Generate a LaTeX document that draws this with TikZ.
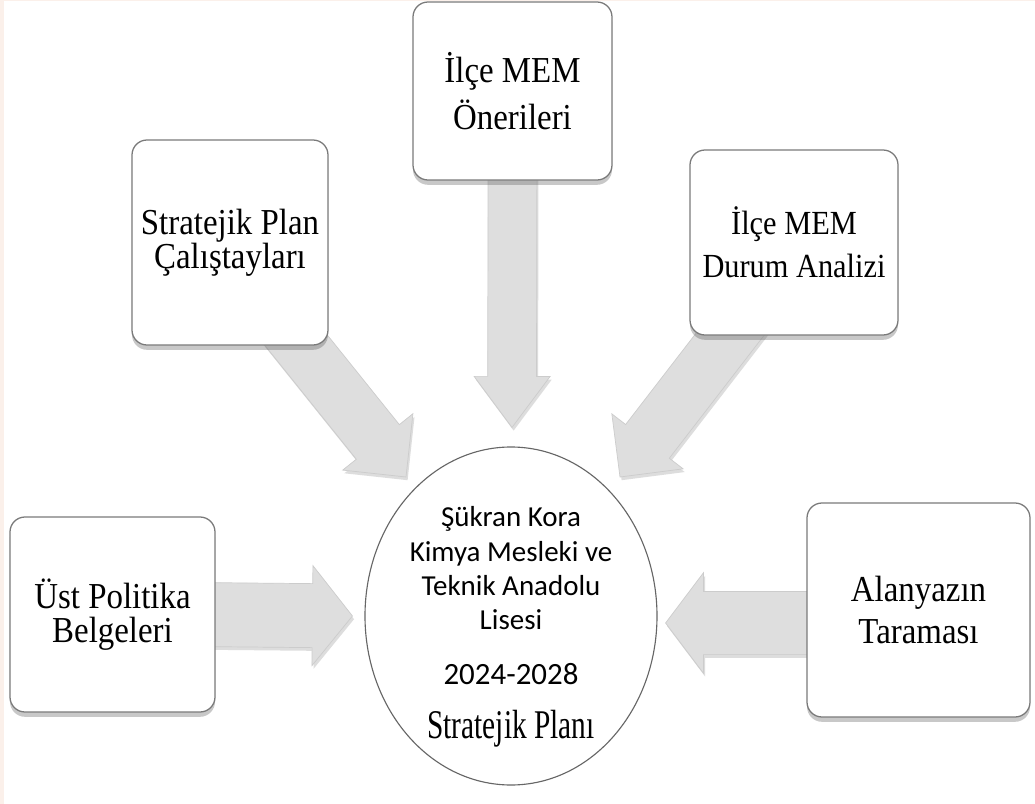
\documentclass[tikz,border=0pt]{standalone}
\usepackage{fontspec}
\setmainfont{Liberation Serif}
\newfontfamily\carlito{Carlito}
\newfontfamily\boxserif{Liberation Serif}[FakeStretch=0.9]
\newfontfamily\narrowserif{Liberation Serif}[FakeStretch=0.72]
\usepackage{tikz}
\usetikzlibrary{calc,shapes.geometric,shadows,backgrounds}

\definecolor{edgepink}{HTML}{FBF0EA}
\definecolor{boxline}{HTML}{7A7A7A}
\definecolor{arrowgray}{HTML}{DEDEDE}

\newcommand{\blockarrow}[5]{%
  \coordinate (hb) at ($(#2)!#5!(#1)$);
  \fill[arr] ($(#1)!#3!90:(#2)$) -- ($(hb)!#3!90:(#2)$) -- ($(hb)!#4!90:(#2)$)
    -- (#2) -- ($(hb)!#4!-90:(#2)$) -- ($(hb)!#3!-90:(#2)$) -- ($(#1)!#3!-90:(#2)$) -- cycle;
}

\begin{document}
\begin{tikzpicture}[x=0.25mm, y=-0.25mm,
    box/.style={draw=boxline, line width=0.9pt, rounded corners=3.75mm, fill=white,
      align=center, inner sep=0pt, font=\boxserif\fontsize{26}{24.5}\selectfont,
      drop shadow={shadow xshift=0pt, shadow yshift=-1.2mm, opacity=0.3, fill=black!70}},
    planball/.style={ellipse, draw=black!60, line width=0.8pt, fill=white,
      inner sep=0pt, minimum width=73mm, minimum height=84.5mm},
    plantxt/.style={align=center, inner sep=0pt, font=\carlito\fontsize{20.6}{24.5}\selectfont},
    arr/.style={fill=arrowgray, draw=black!20, line width=0.5pt,
      drop shadow={shadow xshift=0.4mm, shadow yshift=-0.8mm, opacity=0.22, fill=black!60}}]
  \useasboundingbox (0,0) rectangle (1035,804);

  \node[planball] (plan) at (511,616) {};
  \node[plantxt] (plantext) at ($(plan.center)+(0,11)$) {Şükran Kora\\Kimya Mesleki ve\\Teknik Anadolu\\Lisesi\\[14.5pt]{\fontsize{22}{24}\selectfont 2024-2028}\\[14pt]{\narrowserif\fontsize{29}{30}\selectfont Stratejik Planı}};

  \node[box, minimum width=49mm, minimum height=51.25mm] (stra) at (230,242.5) {Stratejik Plan\\Çalıştayları};
  \node[box, minimum width=49.75mm, minimum height=44.5mm] (oner) at (512.5,91) {İlçe MEM\\[6pt]Önerileri};
  \node[box, minimum width=52mm, minimum height=46.25mm, font=\boxserif\fontsize{24}{24.5}\selectfont] (durum) at (794,242.5) {İlçe MEM\\[6pt]Durum Analizi};
  \node[box, minimum width=51.25mm, minimum height=48.75mm] (ust) at (112.5,614.5) {Üst Politika\\Belgeleri};
  \node[box, minimum width=55.75mm, minimum height=53.5mm] (alan) at (918.5,610) {Alanyazın\\[6pt]Taraması};

  \coordinate (s1) at ($(stra.south)+(52,-23)$);
  \coordinate (e1) at ($(plan.center)+(-105,-139)$);
  \coordinate (s2) at ($(oner.south)+(0,-20)$);
  \coordinate (e2) at ($(plan.north)+(1,-19)$);
  \coordinate (s3) at ($(durum.south)+(-48,-22)$);
  \coordinate (e3) at ($(plan.center)+(109,-139)$);
  \coordinate (s4) at ($(ust.east)+(-20,0)$);
  \coordinate (e4) at ($(plan.west)+(-12,0)$);
  \coordinate (s5) at ($(alan.west)+(20,13)$);
  \coordinate (e5) at ($(plan.east)+(8,7)$);

  \begin{scope}[on background layer]
    \fill[edgepink] (0,0) rectangle (1035,804);
    \fill[white] (4,1) rectangle (1035,804);
    \blockarrow{s1}{e1}{6.9mm}{11.25mm}{11.25mm}
    \blockarrow{s2}{e2}{6.1mm}{9.5mm}{12.75mm}
    \blockarrow{s3}{e3}{6.9mm}{11.25mm}{11.25mm}
    \blockarrow{s4}{e4}{8mm}{12.5mm}{10mm}
    \blockarrow{s5}{e5}{7.9mm}{12.6mm}{9.5mm}
  \end{scope}
\end{tikzpicture}
\end{document}
